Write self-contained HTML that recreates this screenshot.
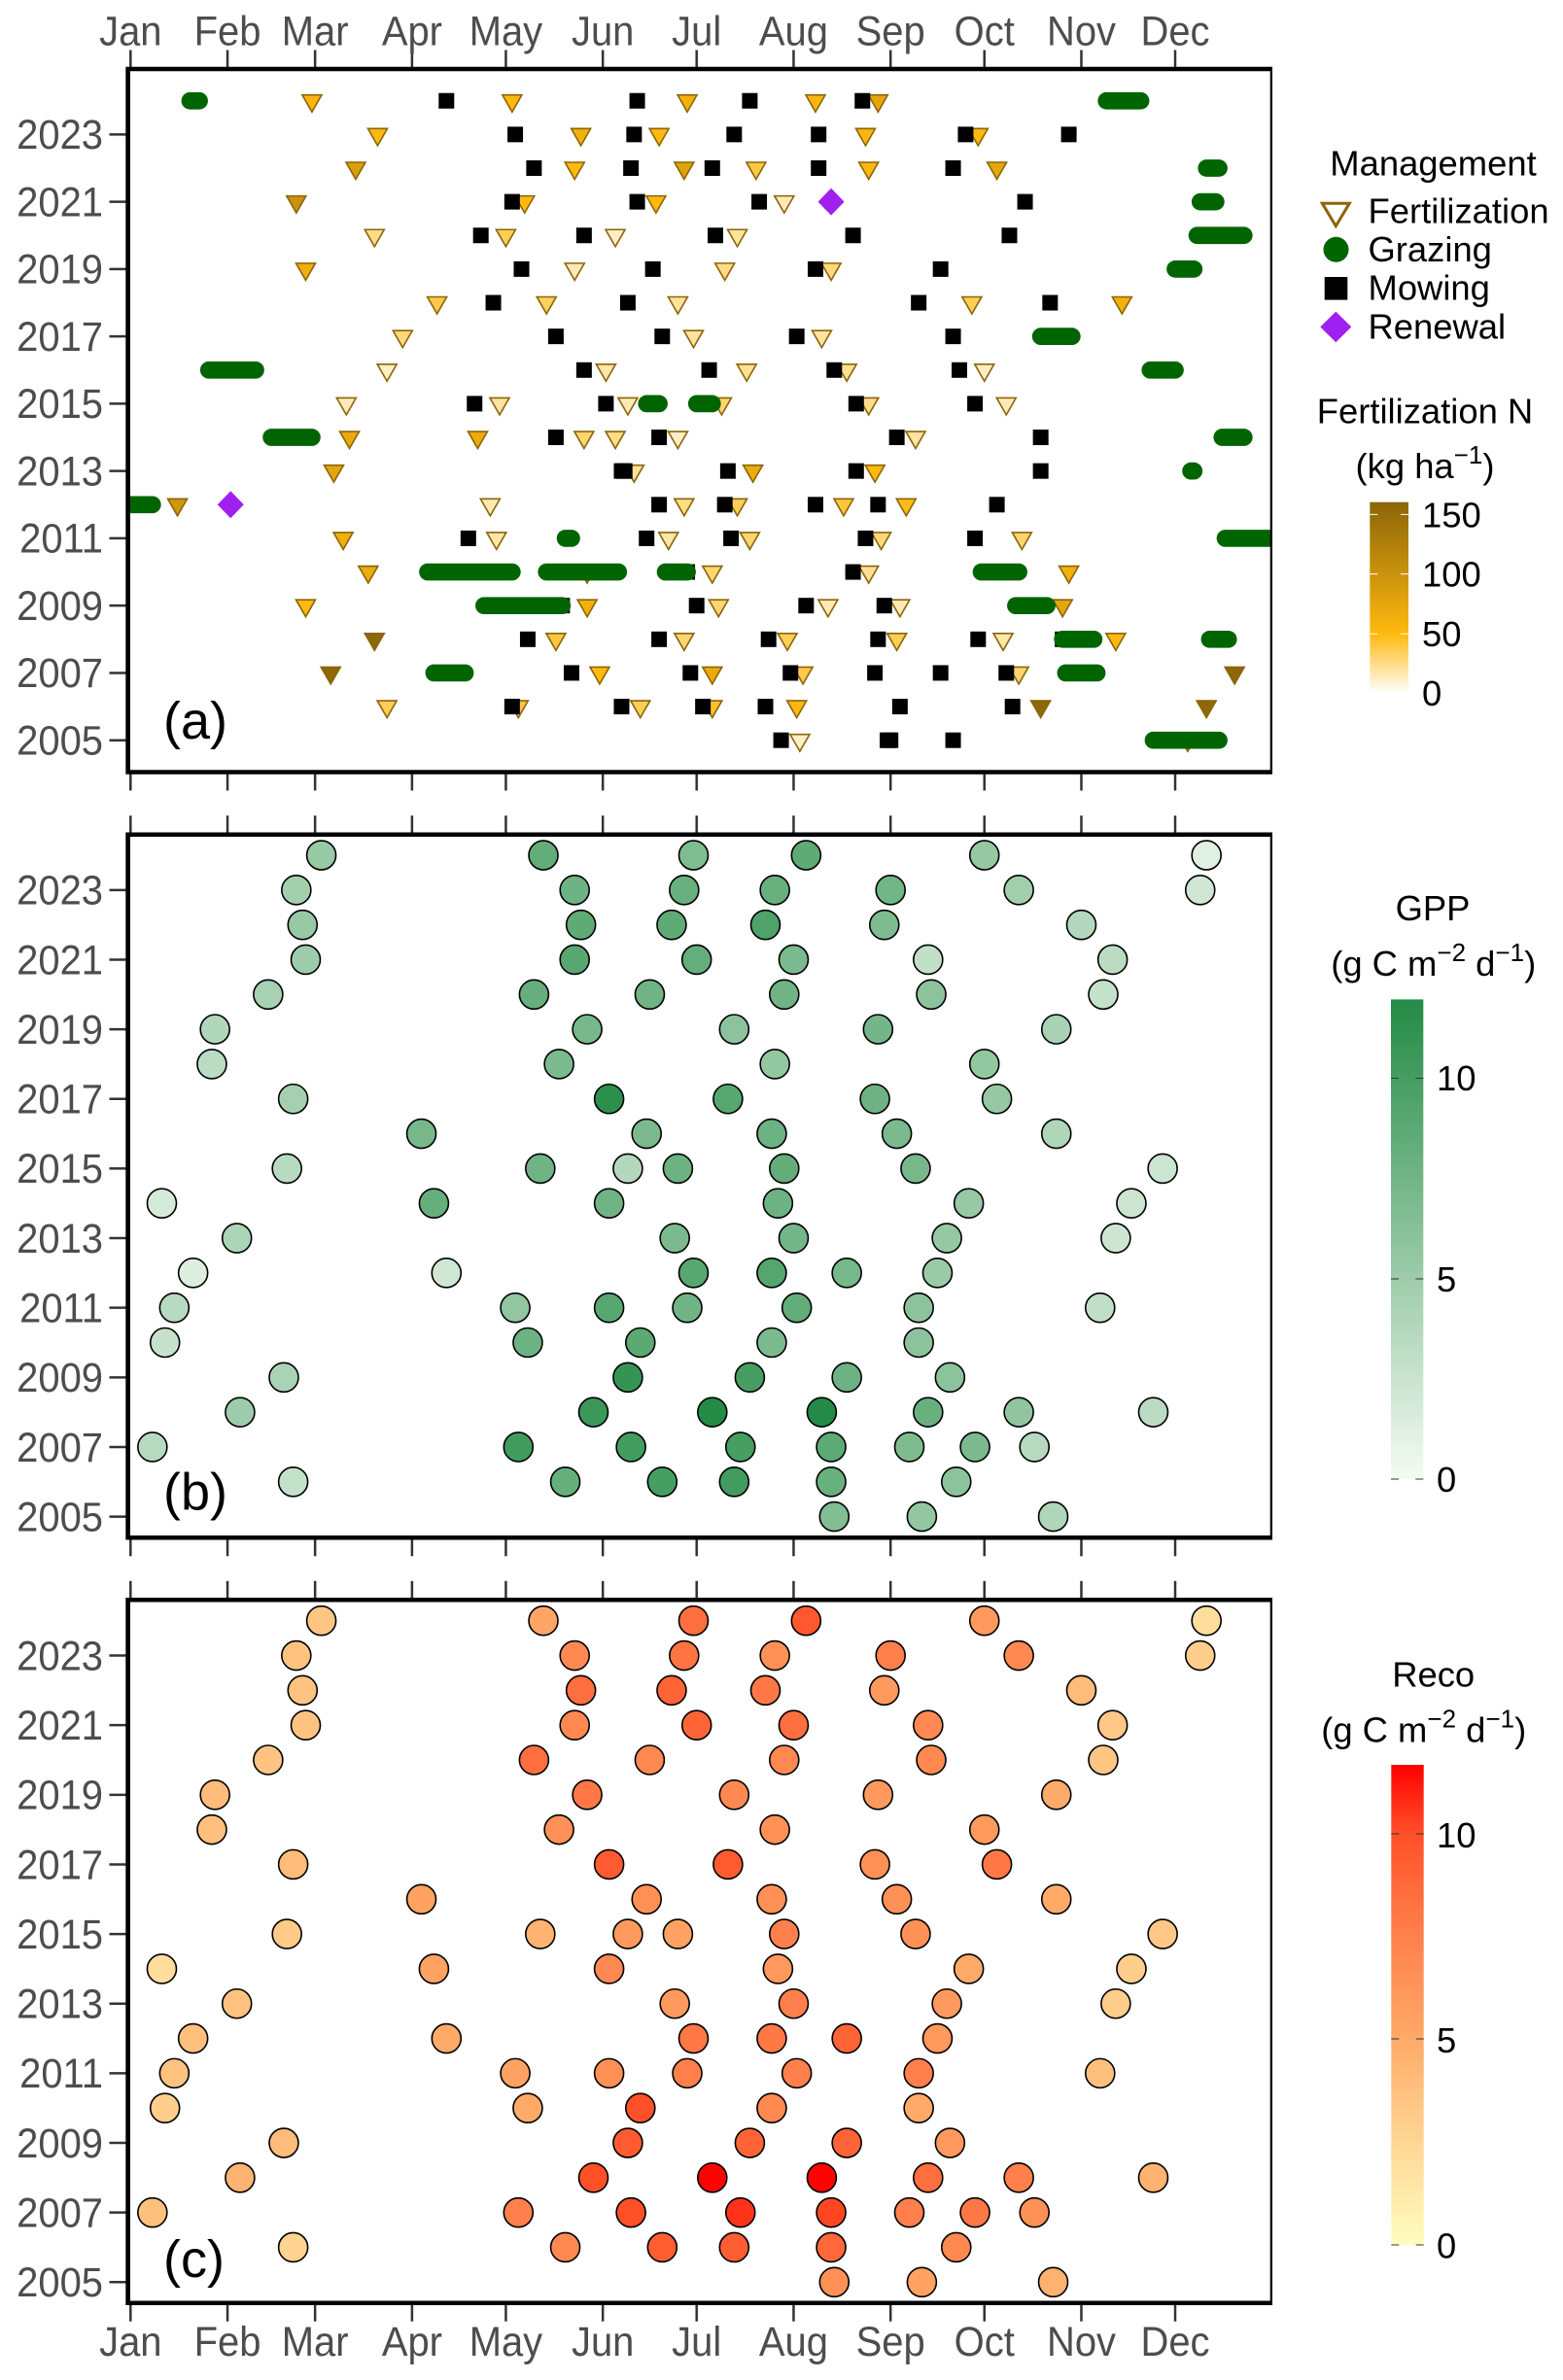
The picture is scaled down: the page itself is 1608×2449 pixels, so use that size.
<!DOCTYPE html>
<html lang="en">
<head>
<meta charset="utf-8">
<title>Management, GPP and Reco by day of year, 2005-2024</title>
<style>
html,body{margin:0;padding:0;background:#fff;}
svg{display:block;font-family:"Liberation Sans",sans-serif;}
.mono{fill:#000;font-size:36.4px;}
</style>
</head>
<body>
<svg id="chart" xmlns="http://www.w3.org/2000/svg" width="1608" height="2449" viewBox="0 0 1608 2449">
  <defs>
    <clipPath id="clip-a"><rect x="134" y="73" width="1173" height="719"/></clipPath>
    <linearGradient id="grad-fert" x1="0" y1="1" x2="0" y2="0">
      <stop offset="0" stop-color="#ffffff"/>
      <stop offset="0.3125" stop-color="#FFB90F"/>
      <stop offset="1" stop-color="#8B6508"/>
    </linearGradient>
    <linearGradient id="grad-gpp" x1="0" y1="1" x2="0" y2="0">
      <stop offset="0" stop-color="#F5FBF3"/>
      <stop offset="1" stop-color="#238B45"/>
    </linearGradient>
    <linearGradient id="grad-reco" x1="0" y1="1" x2="0" y2="0">
      <stop offset="0" stop-color="#FFFDBE"/>
      <stop offset="0.257" stop-color="#FFCE8C"/>
      <stop offset="0.428" stop-color="#FFAA68"/>
      <stop offset="0.686" stop-color="#FF7846"/>
      <stop offset="0.857" stop-color="#FF5028"/>
      <stop offset="1" stop-color="#FF0000"/>
    </linearGradient>
  </defs>
  <rect x="0" y="0" width="1608" height="2449" fill="#fff"/>
  <g id="layer-a"></g>
  <g id="layer-b"></g>
  <g id="layer-c"></g>

  <g>
    <text class="mono" x="1474.5" y="180.6" text-anchor="middle">Management</text>
    <polygon points="1360.3,209.2 1388.3,209.2 1374.3,232.6" fill="#fff" stroke="#8B6508" stroke-width="3"/>
    <text class="mono" x="1407.5" y="229.6">Fertilization</text>
    <circle cx="1374.5" cy="256.8" r="13" fill="#006400"/>
    <text class="mono" x="1407.5" y="269">Grazing</text>
    <rect x="1362.7" y="285" width="23.6" height="23.6" fill="#000"/>
    <text class="mono" x="1407.5" y="308.7">Mowing</text>
    <polygon points="1374.3,320.6 1390.3,336.4 1374.3,352.2 1358.3,336.4" fill="#A020F0"/>
    <text class="mono" x="1407.5" y="348.3">Renewal</text>
  </g>

  <g>
    <text class="mono" x="1466" y="435.6" text-anchor="middle">Fertilization N</text>
    <text class="mono" x="1466" y="491.8" text-anchor="middle">(kg ha<tspan font-size="26" dy="-15">−1</tspan><tspan dy="15">)</tspan></text>
    <rect x="1409.3" y="516.7" width="39.7" height="196.8" fill="url(#grad-fert)"/>
    <path d="M1409.3 529.4h8M1441 529.4h8M1409.3 590.6h8M1441 590.6h8M1409.3 652.3h8M1441 652.3h8" stroke="#fff" stroke-width="1" fill="none"/>
    <text class="mono" x="1463" y="542.4">150</text>
    <text class="mono" x="1463" y="603.7">100</text>
    <text class="mono" x="1463" y="665">50</text>
    <text class="mono" x="1463" y="726">0</text>
  </g>

  <g>
    <text class="mono" x="1474" y="947" text-anchor="middle">GPP</text>
    <text class="mono" x="1474.7" y="1004" text-anchor="middle">(g C m<tspan font-size="26" dy="-15">−2</tspan><tspan dy="15"> d</tspan><tspan font-size="26" dy="-15">−1</tspan><tspan dy="15">)</tspan></text>
    <rect x="1431" y="1028.4" width="33.3" height="493.6" fill="url(#grad-gpp)"/>
    <path d="M1431 1109.5h8M1456.3 1109.5h8M1431 1316h8M1456.3 1316h8M1431 1522h8M1456.3 1522h8" stroke="#333" stroke-width="1" fill="none"/>
    <text class="mono" x="1478" y="1122">10</text>
    <text class="mono" x="1478" y="1329">5</text>
    <text class="mono" x="1478" y="1535">0</text>
  </g>

  <g>
    <text class="mono" x="1474.7" y="1735.5" text-anchor="middle">Reco</text>
    <text class="mono" x="1464.7" y="1792.7" text-anchor="middle">(g C m<tspan font-size="26" dy="-15">−2</tspan><tspan dy="15"> d</tspan><tspan font-size="26" dy="-15">−1</tspan><tspan dy="15">)</tspan></text>
    <rect x="1431.3" y="1816" width="33.4" height="494" fill="url(#grad-reco)"/>
    <path d="M1431.3 1887h8M1456.7 1887h8M1431.3 2098h8M1456.7 2098h8M1431.3 2310h8M1456.7 2310h8" stroke="#333" stroke-width="1" fill="none"/>
    <text class="mono" x="1478" y="1900.8">10</text>
    <text class="mono" x="1478" y="2112">5</text>
    <text class="mono" x="1478" y="2323.5">0</text>
  </g>
</svg>

<script>
const monthLabels = ['Jan','Feb','Mar','Apr','May','Jun','Jul','Aug','Sep','Oct','Nov','Dec'];
const monthDays = [1,32,60,91,121,152,182,213,244,274,305,335];
const yearTicks = [2023,2021,2019,2017,2015,2013,2011,2009,2007,2005];
const rowYears = [2024,2023,2022,2021,2020,2019,2018,2017,2016,2015,2014,2013,2012,2011,2010,2009,2008,2007,2006,2005];

const fertDays = [
  [59,123,179,220,240],
  [80,145,170,236,272],
  [73,143,178,201,237,278],
  [54,127,169,210],
  [79,121,156,195],
  [57,143,191,225],
  [99,134,176,270,318],
  [88,181,222],
  [83,153,198,230,274],
  [70,119,160,190,237,281],
  [71,112,146,156,176,252],
  [66,162,200,239],
  [16,116,178,195,229,249],
  [69,118,173,199,241,286],
  [77,147,187,237,301],
  [57,147,189,224,247,299],
  [79,137,178,211,246,280,316],
  [65,151,187,216,285,354],
  [83,125,164,187,214,292,345],
  [215,339]
];
const fertN = [
  [55,50,60,55,75],
  [50,60,50,55,50],
  [85,50,80,40,52,75],
  [100,50,50,15],
  [25,35,12,20],
  [65,15,25,28],
  [38,33,20,35,62],
  [28,20,20],
  [12,18,22,22,12],
  [15,20,15,30,25,15],
  [70,68,30,25,12,20],
  [75,22,68,50],
  [95,15,25,35,40,48],
  [62,18,18,30,28,30],
  [68,60,30,22,62],
  [50,62,30,15,15,75],
  [158,40,30,35,35,18,50],
  [158,50,70,38,30,158],
  [35,40,35,45,50,158,158],
  [12,100]
];
const mowDays = [
  [102,163,199,235],
  [124,162,194,221,268,301],
  [130,161,187,221,264],
  [123,163,202,287],
  [113,146,188,232,282],
  [126,168,220,260],
  [117,160,253,295],
  [137,171,214,264],
  [146,186,226,266],
  [111,153,233,271],
  [137,170,246,292],
  [158,159,192,233,292],
  [170,191,220,240,278],
  [109,166,193,236,271],
  [179,232],
  [139,182,217,242],
  [128,170,205,240,272,299],
  [142,180,212,239,260,281],
  [123,158,184,204,247,283],
  [209,243,244,264]
];
const grazingSpans = [
  [[20,23],[313,324]],
  [],
  [[345,349]],
  [[343,348]],
  [[342,357]],
  [[335,341]],
  [],
  [[292,302]],
  [[26,41],[327,335]],
  [[166,170],[182,187]],
  [[46,59],[350,357]],
  [[340,341]],
  [[1,8]],
  [[140,142],[351,368]],
  [[96,123],[134,157],[172,179],[273,285]],
  [[114,139],[284,294]],
  [[299,309],[346,352]],
  [[98,108],[300,310]],
  [],
  [[328,349]]
];
const renewalYears = [2021,2012];
const renewalDays = [225,33];

const fluxDays = [
  [62,133,181,217,274,345],
  [54,143,178,207,244,285,343],
  [56,145,174,204,242,305],
  [57,143,182,213,256,315],
  [45,130,167,210,257,312],
  [28,147,194,240,297],
  [27,138,207,274],
  [53,154,192,239,278],
  [94,166,206,246,297],
  [51,132,160,176,210,252,331],
  [11,98,154,208,269,321],
  [35,175,213,262,316],
  [21,102,181,206,230,259],
  [15,124,154,179,214,253,311],
  [12,128,164,206,253],
  [50,160,199,230,263],
  [36,149,187,222,256,285,328],
  [8,125,161,196,225,250,271,290],
  [53,140,171,194,225,265],
  [226,254,296]
];
const gppValues = [
  [5.3,8.4,6.7,8.6,5.5,1.2],
  [4.7,7.7,8,8,7.5,4.8,2.2],
  [5.4,8.6,8.6,9.5,6.8,3.7],
  [5,9,8.3,7,3,3.3],
  [4.5,8.2,7.6,7.6,6,2.8],
  [3.9,7.2,6,7.4,4.4],
  [3.3,7,5.6,5.6],
  [4.6,11.5,9,7.8,5.5],
  [7.2,7,7.8,7,4],
  [3.5,7.6,3.7,7.8,8.4,7.2,2.4],
  [1.8,8.2,7.6,7.8,5.4,2.4],
  [4.2,7,7.4,5.5,2.3],
  [1.4,2.2,9,9.2,7.2,5.2],
  [3.5,5.7,9,7.6,8.4,6,3],
  [2.7,7.8,8.8,7,6],
  [4.3,11,10,7.8,6],
  [5,10.6,12,12,8,5.8,3.4],
  [3.6,10.3,10.2,10,8.7,6.8,7,3.6],
  [2.8,8.2,10,10.2,8,6],
  [6.6,5.6,4]
];
const recoValues = [
  [3.5,5.3,8.5,9.6,6,2],
  [3.6,7,8.2,6.5,7.5,7,3],
  [3.6,8.5,9,8,6,4],
  [3.6,7,9,8.5,7,3.4],
  [3.6,8.5,7,7,7,3.5],
  [4,8,7,6,5],
  [3.8,6.5,6.5,6],
  [4,9.5,9.5,6.5,8],
  [5.5,6.5,6.5,6.5,5],
  [3.2,4.5,6,5.5,7.5,6.5,3.4],
  [2,5.5,7,6,5,3],
  [3.6,6,7.5,6,3],
  [3.8,5,8,8,9,6],
  [3.6,5.5,6.5,7.5,7.5,7.5,3.8],
  [3,5,10,7,5],
  [4,9.5,9,9,6],
  [4.5,10,11.6,11.6,8.5,7.5,4.5],
  [3.8,7.5,10,10.6,10.2,7.5,8,6.5],
  [2.7,7,9.3,9.3,8.8,7],
  [6.5,5.5,4.6]
];

const SVGNS = 'http://www.w3.org/2000/svg';
const xOf = d => 134.3 + (d - 1) * 3.2177;

function make(parent, tag, attrs) {
  const el = document.createElementNS(SVGNS, tag);
  for (const k in attrs) el.setAttribute(k, attrs[k]);
  parent.appendChild(el);
  return el;
}
function lerpRGB(a, b, t) {
  const r = a.map((v, i) => Math.round(v + (b[i] - v) * t));
  return 'rgb(' + r.join(',') + ')';
}
function fertColor(n) {
  if (n <= 50) return lerpRGB([255,255,255], [255,185,15], Math.max(n, 0) / 50);
  return lerpRGB([255,185,15], [139,101,8], Math.min((n - 50) / 110, 1));
}
function gppColor(v) {
  return lerpRGB([245,251,243], [35,139,69], Math.min(Math.max(v, 0) / 12, 1));
}
const recoStopValues = [0, 3, 5, 8, 10, 11.67];
const recoStopColors = [[255,253,190],[255,206,140],[255,170,104],[255,120,70],[255,80,40],[255,0,0]];
function recoColor(v) {
  const c = Math.min(Math.max(v, 0), 11.67);
  for (let i = 1; i < recoStopValues.length; i++) {
    if (c <= recoStopValues[i]) {
      const t = (c - recoStopValues[i - 1]) / (recoStopValues[i] - recoStopValues[i - 1]);
      return lerpRGB(recoStopColors[i - 1], recoStopColors[i], t);
    }
  }
  return 'rgb(255,0,0)';
}
function axisText(parent, x, y, anchor, content) {
  const t = make(parent, 'text', {transform: 'translate(' + x + ' ' + y + ') scale(0.94 1)', 'text-anchor': anchor, 'font-size': 42.5, fill: '#4D4D4D'});
  t.textContent = content;
  return t;
}

function drawFrame(g, top, bottom, yOf, panelKey, labelText, labelY, showTopLabels, showBottomLabels) {
  monthDays.forEach((d, i) => {
    const x = xOf(d);
    const tt = make(g, 'line', {x1: x, x2: x, y1: top - 19.5, y2: top, stroke: '#333', 'stroke-width': 2.5});
    
    
    const bt = make(g, 'line', {x1: x, x2: x, y1: bottom, y2: bottom + 19, stroke: '#333', 'stroke-width': 2.5});
    
    
    if (showTopLabels) {
      const t = axisText(g, x, 46.7, 'middle', monthLabels[i]);
      
      
    }
    if (showBottomLabels) {
      const t = axisText(g, x, 2424, 'middle', monthLabels[i]);
      
      
    }
  });
  yearTicks.forEach(yr => {
    const y = yOf(yr);
    const tk = make(g, 'line', {x1: 112.5, x2: 130, y1: y, y2: y, stroke: '#333', 'stroke-width': 2.5});
    
    
    const t = axisText(g, 106, y + 14.8, 'end', yr);
    
    
  });
  const lab = make(g, 'text', {x: 168, y: labelY, 'font-size': 54, fill: '#000'});
  lab.textContent = labelText;
  
  
}
function drawBorder(g, top, bottom, panelKey) {
  const t0 = top - 2.25, t1 = top + 2.25, b0 = bottom - 2.25, b1 = bottom + 2.25;
  const d = 'M129.3 ' + t0 + 'H1309V' + t1 + 'H129.3Z' +
            'M129.3 ' + b0 + 'H1309V' + b1 + 'H129.3Z' +
            'M129.3 ' + t0 + 'H134V' + b1 + 'H129.3Z' +
            'M1306.7 ' + t0 + 'H1309V' + b1 + 'H1306.7Z';
  const b = make(g, 'path', {d: d, fill: '#000'});
  
  
}

/* Panel (a) */
(function () {
  const g = document.getElementById('layer-a');
  const yOf = yr => 761.7 - (yr - 2005) * 34.63;
  drawFrame(g, 71, 794.5, yOf, 'panel-a', '(a)', 760, true, false);
  const marks = make(g, 'g', {'clip-path': 'url(#clip-a)'});
  
  
  rowYears.forEach((yr, r) => {
    const y = yOf(yr);
    fertDays[r].forEach((d, i) => {
      const x = xOf(d);
      const pts = (x - 10) + ',' + (y - 6) + ' ' + (x + 10) + ',' + (y - 6) + ' ' + x + ',' + (y + 11.5);
      const el = make(marks, 'polygon', {points: pts, fill: fertColor(fertN[r][i]), stroke: '#8B6508', 'stroke-width': 1.6});
      
      
    });
  });
  rowYears.forEach((yr, r) => {
    const y = yOf(yr);
    mowDays[r].forEach(d => {
      const el = make(marks, 'rect', {x: xOf(d) - 8, y: y - 8, width: 16, height: 16, fill: '#000'});
      
      
    });
  });
  renewalYears.forEach((yr, i) => {
    const x = xOf(renewalDays[i]);
    const y = yOf(yr);
    const pts = x + ',' + (y - 14) + ' ' + (x + 13.5) + ',' + y + ' ' + x + ',' + (y + 14) + ' ' + (x - 13.5) + ',' + y;
    const el = make(marks, 'polygon', {points: pts, fill: '#A020F0'});
    
    
  });
  rowYears.forEach((yr, r) => {
    const y = yOf(yr);
    grazingSpans[r].forEach(span => {
      const el = make(marks, 'line', {x1: xOf(span[0]), x2: xOf(span[1]), y1: y, y2: y, stroke: '#006400', 'stroke-width': 17.7, 'stroke-linecap': 'round'});
      
      
    });
  });
  drawBorder(g, 71, 794.5, 'panel-a');
})();

/* Panels (b) and (c) */
function drawFlux(layerId, top, bottom, y2005, values, colorFn, key, label, labelY, bottomLabels) {
  const g = document.getElementById(layerId);
  const yOf = yr => y2005 - (yr - 2005) * 35.82;
  drawFrame(g, top, bottom, yOf, key, label, labelY, false, bottomLabels);
  rowYears.forEach((yr, r) => {
    const y = yOf(yr);
    fluxDays[r].forEach((d, i) => {
      const el = make(g, 'circle', {cx: xOf(d), cy: y, r: 15, fill: colorFn(values[r][i]), stroke: '#000', 'stroke-width': 1.6});
      
      
    });
  });
  drawBorder(g, top, bottom, key);
}
drawFlux('layer-b', 858.8, 1582.3, 1560.6, gppValues, gppColor, 'panel-b', '(b)', 1553.7, false);
drawFlux('layer-c', 1646.3, 2369.7, 2348.3, recoValues, recoColor, 'panel-c', '(c)', 2343, true);
</script>
</body>
</html>
